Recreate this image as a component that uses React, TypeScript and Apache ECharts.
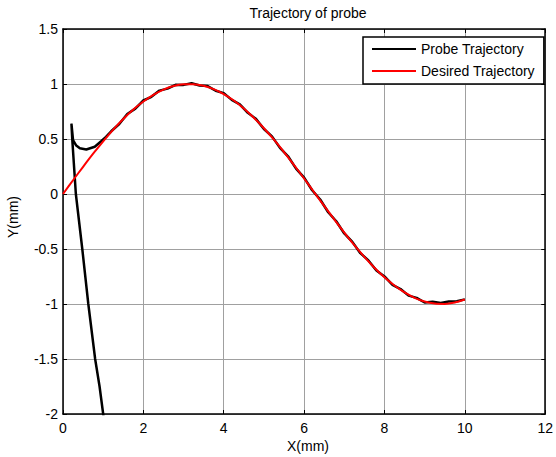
import React, { useEffect, useRef } from "react";
import * as echarts from "echarts";

const xTicks = { min: 0, max: 12, interval: 2 };
const yTicks = { min: -2, max: 1.5, interval: 0.5 };

const desiredX = [0, 0.25, 0.5, 0.75, 1, 1.25, 1.5, 1.75, 2, 2.25, 2.5, 2.75, 3, 3.25, 3.5, 3.75, 4, 4.25, 4.5, 4.75, 5, 5.25, 5.5, 5.75, 6, 6.25, 6.5, 6.75, 7, 7.25, 7.5, 7.75, 8, 8.25, 8.5, 8.75, 9, 9.25, 9.5, 9.75, 10];
const desiredY = [0, 0.125, 0.247, 0.366, 0.479, 0.585, 0.682, 0.768, 0.841, 0.902, 0.949, 0.981, 0.997, 0.998, 0.984, 0.954, 0.909, 0.85, 0.778, 0.693, 0.598, 0.494, 0.381, 0.263, 0.141, 0.016, -0.108, -0.231, -0.351, -0.465, -0.572, -0.67, -0.757, -0.832, -0.895, -0.944, -0.978, -0.996, -0.999, -0.986, -0.959];

const probeX = [1.05, 1.0, 0.91, 0.8, 0.63, 0.48, 0.32, 0.23, 0.21, 0.25, 0.33, 0.42, 0.58, 0.79, 0.95, 1.07,
  1.2, 1.4, 1.6, 1.8, 2.0, 2.2, 2.4, 2.6, 2.8, 3.0, 3.2, 3.4, 3.6, 3.8, 4.0, 4.2, 4.4, 4.6, 4.8, 5.0, 5.2, 5.4, 5.6, 5.8, 6.0, 6.2, 6.4, 6.6, 6.8, 7.0, 7.2, 7.4, 7.6, 7.8, 8.0, 8.2, 8.4, 8.6, 8.8, 9.0, 9.2, 9.4, 9.6, 9.8, 10.0];
const probeY = [-2.15, -2.0, -1.75, -1.5, -1.0, -0.5, 0, 0.5, 0.64, 0.49, 0.44, 0.415, 0.405, 0.43, 0.48, 0.52,
  0.57, 0.636, 0.727, 0.776, 0.85, 0.884, 0.94, 0.958, 0.993, 0.992, 1.007, 0.986, 0.981, 0.939, 0.917, 0.856, 0.815, 0.738, 0.683, 0.591, 0.524, 0.419, 0.343, 0.231, 0.149, 0.034, -0.05, -0.166, -0.248, -0.359, -0.435, -0.538, -0.604, -0.696, -0.749, -0.826, -0.864, -0.924, -0.944, -0.986, -0.98, -0.99, -0.978, -0.975, -0.958];

const FONT = "Liberation Sans, Arial, sans-serif";

export default function App() {
  const ref = useRef<HTMLDivElement>(null);
  useEffect(() => {
    if (!ref.current) return;
    const chart = echarts.init(ref.current, null, { renderer: "svg" });
    const axisCommon = {
      type: "value" as const,
      axisLine: { show: true, onZero: false, lineStyle: { color: "#000", width: 1.5 } },
      axisTick: { show: true, inside: true, length: 4, lineStyle: { color: "#000", width: 1 } },
    };
    chart.setOption({
      animation: false,
      backgroundColor: "#fff",
      textStyle: { fontFamily: FONT },
      grid: { left: 63, top: 29, right: 2, bottom: 43, containLabel: false },
      xAxis: [
        {
          ...axisCommon,
          ...xTicks,
          position: "bottom",
          axisLabel: { color: "#000", fontSize: 14, fontFamily: FONT, margin: 7 },
          splitLine: { show: true, lineStyle: { color: "#a0a0a0", width: 1 } },
        },
        {
          ...axisCommon,
          ...xTicks,
          position: "top",
          axisLabel: { show: false },
          splitLine: { show: false },
        },
      ],
      yAxis: [
        {
          ...axisCommon,
          ...yTicks,
          position: "left",
          axisLabel: { color: "#000", fontSize: 14, fontFamily: FONT, margin: 5 },
          splitLine: { show: true, lineStyle: { color: "#a0a0a0", width: 1 } },
        },
        {
          ...axisCommon,
          ...yTicks,
          position: "right",
          axisLabel: { show: false },
          splitLine: { show: false },
        },
      ],
      legend: {
        orient: "vertical",
        left: 363,
        top: 37,
        padding: [5, 9, 6, 9],
        itemGap: 8,
        itemWidth: 44,
        itemHeight: 2,
        itemStyle: { borderWidth: 0 },
        icon: "rect",
        backgroundColor: "#fff",
        borderColor: "#000",
        borderWidth: 1.5,
        borderRadius: 0,
        textStyle: { color: "#000", fontSize: 14, fontFamily: FONT },
        data: ["Probe Trajectory", "Desired Trajectory"],
      },
      graphic: [
        { type: "text", x: 308, y: 13, style: { text: "Trajectory of probe", fill: "#000", font: `14px ${FONT}`, align: "center", verticalAlign: "middle" } },
        { type: "text", x: 308, y: 446, style: { text: "X(mm)", fill: "#000", font: `14px ${FONT}`, align: "center", verticalAlign: "middle" } },
        { type: "text", x: 13, y: 217, rotation: Math.PI / 2, style: { text: "Y(mm)", fill: "#000", font: `14px ${FONT}`, align: "center", verticalAlign: "middle" } },
      ],
      series: [
        {
          name: "Probe Trajectory",
          type: "line",
          data: probeX.map((x, i) => [x, probeY[i]]),
          showSymbol: false,
          clip: true,
          lineStyle: { color: "#000", width: 2.5 },
          itemStyle: { color: "#000" },
        },
        {
          name: "Desired Trajectory",
          type: "line",
          data: desiredX.map((x, i) => [x, desiredY[i]]),
          showSymbol: false,
          smooth: 0.3,
          clip: true,
          lineStyle: { color: "#ff0000", width: 2 },
          itemStyle: { color: "#ff0000" },
        },
      ],
    });
    return () => chart.dispose();
  }, []);
  return <div ref={ref} style={{ width: 556, height: 457, position: "absolute", left: 0, top: 0 }} />;
}
